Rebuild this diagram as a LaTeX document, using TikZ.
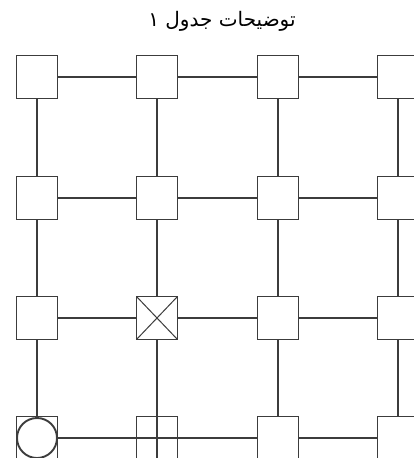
\documentclass[tikz,border=0pt]{standalone}
\usepackage{fontspec}
\newfontfamily\arabicfont[Script=Arabic]{DejaVu Sans}
\TeXXeTstate=1
\definecolor{linegray}{RGB}{60,60,60}

\begin{document}
\begin{tikzpicture}[x=1pt,y=-1pt,
    cell/.style={draw=linegray, line width=1.9pt, fill=white, minimum width=41pt,
      minimum height=43pt, inner sep=0pt, outer sep=0pt},
    wire/.style={draw=linegray, line width=1.9pt}]
  \useasboundingbox (0,0) rectangle (414,458);
  \node (title) at (222,21) {\arabicfont\fontsize{20}{24}\selectfont\beginR توضیحات جدول ۱\endR};
  \foreach \c/\x in {1/37,2/157,3/278,4/398}
    \foreach \r/\y in {1/77,2/198,3/318,4/438}
      \node[cell] (n-\c-\r) at (\x,\y) {};
  \foreach \r in {1,2,3}
    \foreach \c/\d in {1/2,2/3,3/4}
      \draw[wire] (n-\c-\r) -- (n-\d-\r);
  \draw[wire] (n-1-4) -- (n-3-4);
  \draw[wire] (n-3-4) -- (n-4-4);
  \foreach \c in {1,3,4}
    \foreach \r/\s in {1/2,2/3,3/4}
      \draw[wire] (n-\c-\r) -- (n-\c-\s);
  \draw[wire] (n-2-1) -- (n-2-2);
  \draw[wire] (n-2-2) -- (n-2-3);
  \draw[wire] (n-2-3) -- (n-2-4.south);
  \draw[wire, line width=1pt] (n-2-3.north west) -- (n-2-3.south east)
    (n-2-3.north east) -- (n-2-3.south west);
  \draw[wire] (n-1-4.center) circle (20pt);
\end{tikzpicture}
\end{document}
